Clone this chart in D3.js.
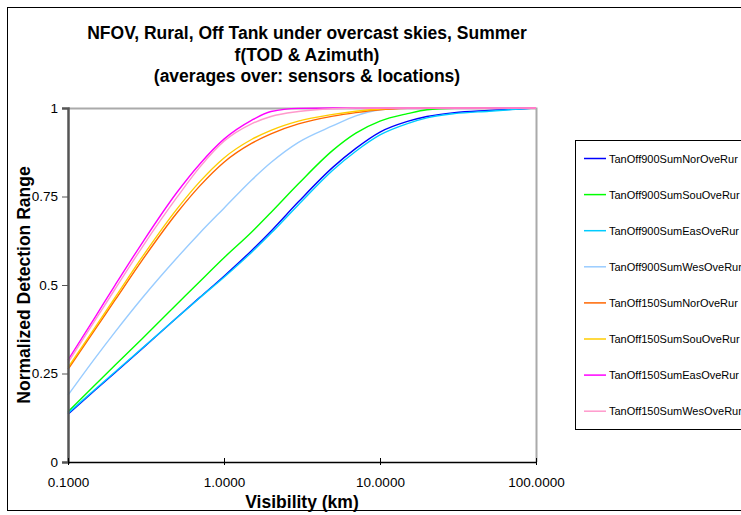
<!DOCTYPE html>
<html>
<head>
<meta charset="utf-8">
<script src="https://cdn.jsdelivr.net/npm/d3@7"></script>
<style>
  body { margin: 0; background: #fff; }
  svg { display: block; font-family: Arial, "Liberation Sans", sans-serif; }
</style>
</head>
<body>
<div id="chart"></div>
<script>
// visibility (km) sample points
var visibility = [0.1, 0.15, 0.2, 0.3, 0.5, 0.7, 1, 1.5, 2, 3, 5, 7, 10, 15, 20, 30, 50, 100];

var seriesNames = [
  "TanOff900SumNorOveRur", "TanOff900SumSouOveRur", "TanOff900SumEasOveRur", "TanOff900SumWesOveRur",
  "TanOff150SumNorOveRur", "TanOff150SumSouOveRur", "TanOff150SumEasOveRur", "TanOff150SumWesOveRur"
];
var seriesColors = ["#0000ff", "#00ff00", "#00ccff", "#99ccff", "#ff6600", "#ffcc00", "#ff00ff", "#ff99cc"];

var nor900 = [0.135, 0.204, 0.252, 0.321, 0.408, 0.465, 0.525, 0.597, 0.652, 0.735, 0.833, 0.886, 0.932, 0.962, 0.976, 0.987, 0.993, 1.0];
var sou900 = [0.142, 0.219, 0.273, 0.349, 0.446, 0.510, 0.577, 0.649, 0.705, 0.786, 0.881, 0.929, 0.963, 0.984, 0.995, 0.999, 1.0, 1.0];
var eas900 = [0.138, 0.206, 0.254, 0.322, 0.408, 0.464, 0.522, 0.592, 0.646, 0.727, 0.825, 0.878, 0.924, 0.956, 0.972, 0.984, 0.991, 1.0];
var wes900 = [0.189, 0.295, 0.367, 0.464, 0.577, 0.647, 0.717, 0.796, 0.846, 0.903, 0.950, 0.978, 0.995, 1.0, 1.0, 1.0, 1.0, 1.0];
var nor150 = [0.262, 0.376, 0.457, 0.571, 0.704, 0.780, 0.847, 0.900, 0.927, 0.955, 0.977, 0.987, 0.995, 0.999, 1.0, 1.0, 1.0, 1.0];
var sou150 = [0.267, 0.382, 0.464, 0.580, 0.715, 0.792, 0.859, 0.911, 0.937, 0.963, 0.982, 0.991, 0.997, 1.0, 1.0, 1.0, 1.0, 1.0];
var eas150 = [0.288, 0.411, 0.499, 0.620, 0.762, 0.842, 0.912, 0.965, 0.990, 0.999, 1.0, 1.0, 1.0, 1.0, 1.0, 1.0, 1.0, 1.0];
var wes150 = [0.281, 0.402, 0.488, 0.608, 0.748, 0.833, 0.906, 0.955, 0.976, 0.990, 0.998, 1.0, 1.0, 1.0, 1.0, 1.0, 1.0, 1.0];

var allSeries = [nor900, sou900, eas900, wes900, nor150, sou150, eas150, wes150];

var xTicks = [0.1, 1, 10, 100];
var yTicks = [0, 0.25, 0.5, 0.75, 1];

var titleLines = ["NFOV, Rural, Off Tank under overcast skies, Summer", "f(TOD & Azimuth)", "(averages over: sensors & locations)"];

var W = 741, H = 515;
var plot = {left: 68, right: 536, top: 108, bottom: 462};

var svg = d3.select("#chart").append("svg")
  .attr("width", W).attr("height", H);

// outer chart frame
svg.append("rect")
  .attr("x", 7.5).attr("y", 7.5)
  .attr("width", 745).attr("height", 503)
  .attr("fill", "none").attr("stroke", "#000").attr("stroke-width", 1);

var x = d3.scaleLog().domain([0.1, 100]).range([plot.left, plot.right]);
var y = d3.scaleLinear().domain([0, 1]).range([plot.bottom, plot.top]);

// plot area border (top and right, grey)
svg.append("path")
  .attr("d", "M" + plot.left + "," + (plot.top + 0.5) + "H" + (plot.right + 0.5) + "V" + plot.bottom)
  .attr("fill", "none").attr("stroke", "#aaaaaa").attr("stroke-width", 2);

// series
var line = d3.line()
  .x(function(d) { return x(d[0]); })
  .y(function(d) { return y(d[1]); })
  .curve(d3.curveMonotoneX);

allSeries.forEach(function(vals, i) {
  var pts = visibility.map(function(v, j) { return [v, vals[j]]; });
  svg.append("path")
    .datum(pts)
    .attr("d", line)
    .attr("fill", "none")
    .attr("stroke", seriesColors[i])
    .attr("stroke-width", 1.4);
});

// y axis
var yAxis = svg.append("g")
  .attr("transform", "translate(" + plot.left + ",0)")
  .call(d3.axisLeft(y).tickValues(yTicks).tickSize(6).tickPadding(4)
    .tickFormat(function(d) { return d === 0 || d === 1 ? d : d3.format("")(d); }));
yAxis.select(".domain").attr("stroke", "#555").attr("stroke-width", 2.5);
yAxis.selectAll(".tick line").attr("stroke", "#555");
yAxis.selectAll("text").attr("font-size", "13.5px").attr("fill", "#000")
  .attr("font-family", "Arial, 'Liberation Sans', sans-serif");

// x axis
var xAxis = svg.append("g")
  .attr("transform", "translate(0," + plot.bottom + ")")
  .call(d3.axisBottom(x).tickValues(xTicks).tickSize(0).tickPadding(15)
    .tickFormat(d3.format(".4f")));
xAxis.select(".domain").attr("stroke", "#000").attr("stroke-width", 1.5);
xAxis.selectAll(".tick line").attr("y1", -4).attr("y2", 3).attr("stroke", "#000");
xAxis.selectAll("text").attr("font-size", "13.5px").attr("fill", "#000")
  .attr("font-family", "Arial, 'Liberation Sans', sans-serif");

// titles
svg.append("g").selectAll("text")
  .data(titleLines)
  .enter().append("text")
  .attr("x", 307)
  .attr("y", function(d, i) { return 39 + i * 21.5; })
  .attr("text-anchor", "middle")
  .attr("font-weight", "bold")
  .attr("font-size", "17.5px")
  .text(function(d) { return d; });

svg.append("text")
  .attr("x", 302).attr("y", 508)
  .attr("text-anchor", "middle")
  .attr("font-weight", "bold").attr("font-size", "17.5px")
  .text("Visibility (km)");

svg.append("text")
  .attr("transform", "translate(30,285) rotate(-90)")
  .attr("text-anchor", "middle")
  .attr("font-weight", "bold").attr("font-size", "17.5px")
  .text("Normalized Detection Range");

// legend
var legend = svg.append("g");
legend.append("rect")
  .attr("x", 575.5).attr("y", 140.5)
  .attr("width", 200).attr("height", 289)
  .attr("fill", "#fff").attr("stroke", "#000").attr("stroke-width", 1);

var item = legend.selectAll("g.item")
  .data(seriesNames)
  .enter().append("g")
  .attr("class", "item")
  .attr("transform", function(d, i) { return "translate(0," + (158.5 + i * 36.1) + ")"; });
item.append("line")
  .attr("x1", 584).attr("x2", 606)
  .attr("stroke", function(d, i) { return seriesColors[i]; })
  .attr("stroke-width", 1.5);
item.append("text")
  .attr("x", 609).attr("y", 4)
  .attr("font-size", "11px")
  .text(function(d) { return d; });
</script>
</body>
</html>
